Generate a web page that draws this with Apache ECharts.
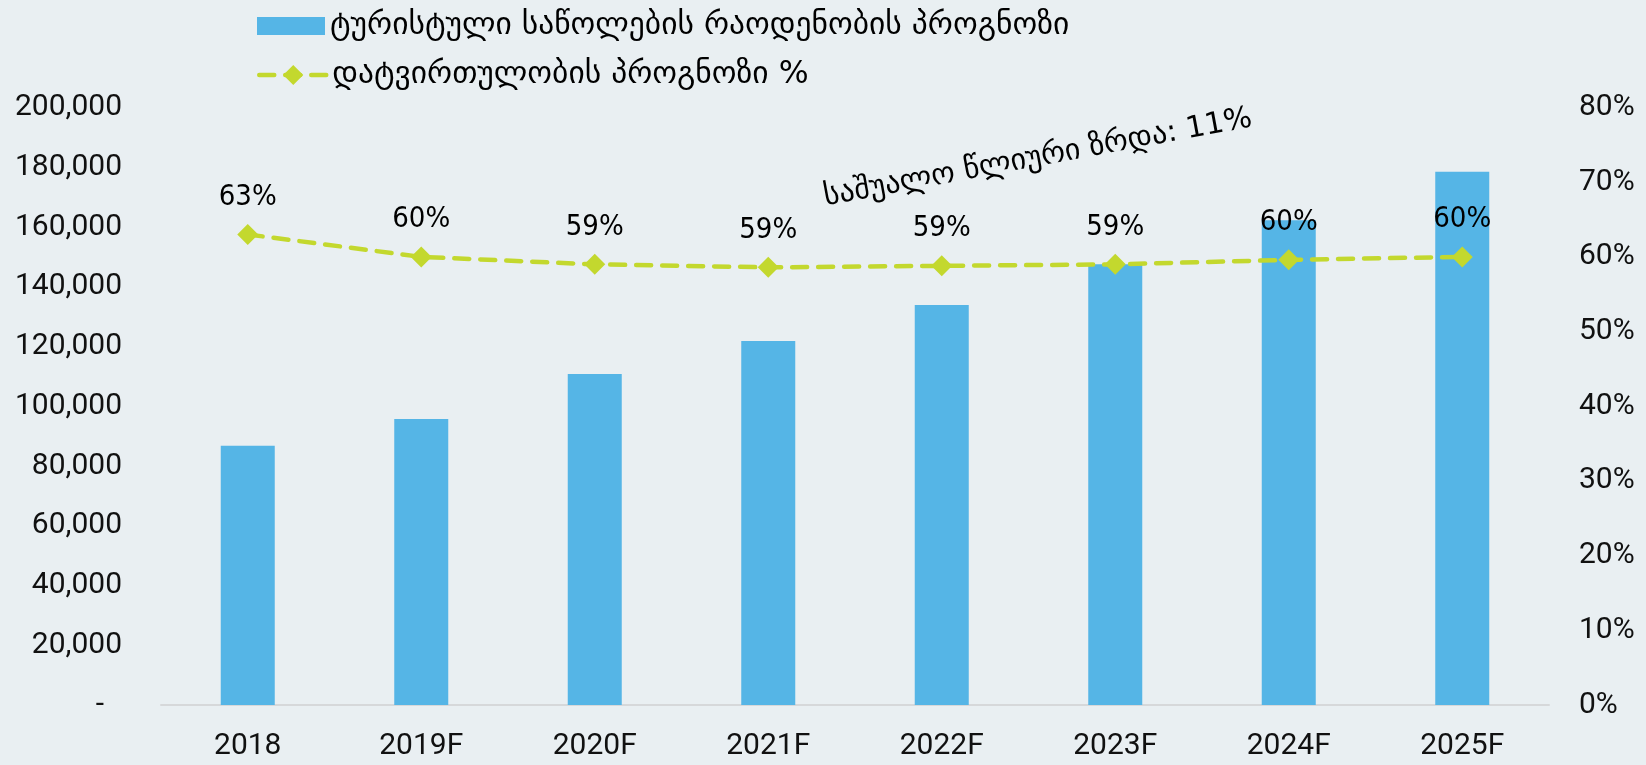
<!DOCTYPE html>
<html lang="ka">
<head>
    <meta charset="UTF-8">
    <title>სასტუმროების პროგნოზი</title>
    <script src="https://cdn.jsdelivr.net/npm/echarts@6/dist/echarts.min.js"></script>
    <style>
        html, body { margin: 0; padding: 0; background: #E9EFF2; }
        #main { width: 1646px; height: 765px; }
    </style>
</head>
<body>
    <div id="main"></div>
</body>
</html>
<script type="text/javascript">
    // მონაცემები
    var years = ['2018', '2019F', '2020F', '2021F', '2022F', '2023F', '2024F', '2025F'];
    var beds = [86800, 95700, 110800, 121800, 133900, 147500, 162300, 178500];
    var occupancy = [0.630, 0.600, 0.590, 0.586, 0.588, 0.590, 0.596, 0.600];
    var bedsName = 'ტურისტული საწოლების რაოდენობის პროგნოზი';
    var occName = 'დატვირთულობის პროგნოზი %';
    var growthNote = 'საშუალო წლიური ზრდა: 11%';

    var numFont = 'Roboto, "DejaVu Sans", sans-serif';
    var geoFont = '"DejaVu Sans", sans-serif';
    var lime = '#C3D82E';

    var myChart = echarts.init(document.getElementById('main'));

    var legendText = { fontFamily: geoFont, fontSize: 31.5, lineHeight: 36, color: '#000' };

    var option = {
        backgroundColor: '#E9EFF2',
        legend: [
            {
                // ზოლები
                left: 252,
                top: 3,
                icon: 'rect',
                itemWidth: 68,
                itemHeight: 18,
                textStyle: legendText,
                data: [bedsName]
            },
            {
                // ხაზი
                left: 252,
                top: 52,
                itemWidth: 68,
                itemHeight: 25,
                lineStyle: { width: 4.5 },
                textStyle: legendText,
                data: [occName]
            }
        ],
        grid: {
            left: 161,
            right: 97,
            top: 107.5,
            bottom: 60
        },
        xAxis: {
            type: 'category',
            data: years,
            axisLine: { lineStyle: { color: '#D6D8DA', width: 2 } },
            axisTick: { show: false },
            axisLabel: { fontFamily: numFont, fontSize: 30, color: '#111', margin: 26 }
        },
        yAxis: [
            {
                type: 'value',
                min: 0,
                max: 200000,
                interval: 20000,
                splitLine: { show: false },
                axisLine: { show: false },
                axisLabel: {
                    fontFamily: numFont,
                    fontSize: 30,
                    color: '#111',
                    margin: 39,
                    formatter: function (v) {
                        return v === 0 ? '{d|-}' : v.toLocaleString('en-US');
                    },
                    rich: { d: { fontFamily: numFont, fontSize: 30, color: '#111', padding: [0, 18, 0, 0] } }
                }
            },
            {
                type: 'value',
                min: 0,
                max: 0.8,
                interval: 0.1,
                splitLine: { show: false },
                axisLine: { show: false },
                axisLabel: {
                    fontFamily: numFont,
                    fontSize: 30,
                    color: '#111',
                    margin: 30,
                    formatter: function (v) { return Math.round(v * 100) + '%'; }
                }
            }
        ],
        series: [
            {
                name: bedsName,
                type: 'bar',
                data: beds,
                barWidth: 54,
                itemStyle: { color: '#55B5E6' }
            },
            {
                name: occName,
                type: 'line',
                yAxisIndex: 1,
                data: occupancy,
                symbol: 'diamond',
                symbolSize: 21,
                itemStyle: { color: lime },
                lineStyle: { color: lime, width: 4.5, type: [15, 11], cap: 'round' },
                label: {
                    show: true,
                    position: 'top',
                    distance: 12,
                    fontFamily: '"Liberation Sans Narrow", "DejaVu Sans Condensed", sans-serif',
                    fontSize: 29,
                    color: '#000',
                    formatter: function (p) { return Math.round(p.value * 100) + '%'; }
                },
                z: 3
            }
        ],
        graphic: [
            {
                type: 'text',
                x: 1038,
                y: 158,
                rotation: 10.5 * Math.PI / 180,
                style: {
                    text: growthNote,
                    fontFamily: '"DejaVu Sans", sans-serif',
                    fontSize: 30,
                    fill: '#000',
                    align: 'center',
                    verticalAlign: 'middle'
                }
            }
        ]
    };

    myChart.setOption(option);
</script>
